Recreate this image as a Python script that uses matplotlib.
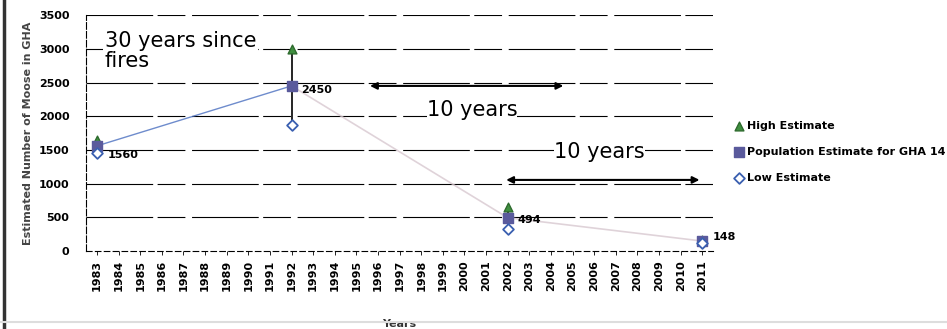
import matplotlib.pyplot as plt
import numpy as np

years = list(range(1983, 2012))
survey_years = [1983, 1992, 2002, 2011]
population = [1560, 2450, 494, 148]
high_estimate = [1650, 3000, 650, 165]
low_estimate = [1450, 1870, 330, 115]
y_ticks = [0, 500, 1000, 1500, 2000, 2500, 3000, 3500]

fig = plt.figure(figsize=(9.47, 3.29), dpi=100)
ax = fig.add_axes([0.091, 0.237, 0.662, 0.717])

# categories are placed at integer positions, like a category axis
pos = {y: i for i, y in enumerate(years)}
xs = [pos[y] for y in survey_years]

for t in y_ticks[1:]:
    ax.axhline(t, color='black', lw=0.8, dashes=(60, 4, 25, 6), zorder=1)

# faint trend through the population estimates
ax.plot(xs[:2], population[:2], color='#4a6fc0', lw=1.0, alpha=0.8, zorder=2)
ax.plot(xs[1:], population[1:], color='#d8c8d0', lw=1.2, alpha=0.8, zorder=2)

# vertical ranges between high and low
for x, lo, hi in zip(xs, low_estimate, high_estimate):
    ax.plot([x, x], [lo, hi], color='black', lw=1.2, zorder=3)

ax.scatter(xs, high_estimate, marker='^', s=40, color='#3f8f3f', edgecolor='#2e6b2e',
           zorder=4, label='High Estimate')
ax.scatter(xs, population, marker='s', s=55, color='#5a5a9c', zorder=5,
           label='Population Estimate for GHA 14')
ax.scatter(xs, low_estimate, marker='D', s=30, facecolor='white', edgecolor='#3a5fb0',
           lw=1.3, zorder=6, label='Low Estimate')

offsets = [(0.5, -130), (0.45, -60), (0.45, -40), (0.5, 60)]
for x, p, (dx, dy) in zip(xs, population, offsets):
    ax.text(x + dx, p + dy, str(p), fontsize=8, fontweight='bold', va='center', zorder=7)

# time span arrows
ax.annotate('', xy=(pos[1995] + 0.5, 2450), xytext=(pos[2005] - 0.3, 2450),
            arrowprops=dict(arrowstyle='<|-|>', color='black', lw=1.5, mutation_scale=10))
ax.annotate('', xy=(pos[2002] - 0.2, 1055), xytext=(pos[2011], 1055),
            arrowprops=dict(arrowstyle='<|-|>', color='black', lw=1.5, mutation_scale=10))

ax.text(pos[1983] + 0.35, 3270, '30 years since\nfires', fontsize=15, va='top', ha='left',
        linespacing=1.05, zorder=7,
        bbox=dict(facecolor='white', edgecolor='none', pad=1))
ax.text(pos[2000] + 0.35, 2090, '10 years', fontsize=15, ha='center', va='center', zorder=7,
        bbox=dict(facecolor='white', edgecolor='none', pad=0))
ax.text(pos[2006] + 0.25, 1470, '10 years', fontsize=15, ha='center', va='center', zorder=7,
        bbox=dict(facecolor='white', edgecolor='none', pad=0))

ax.set_xlim(-0.5, len(years) - 0.5)
ax.set_ylim(0, 3500)
ax.set_xticks(range(len(years)))
ax.set_xticklabels([str(y) for y in years], rotation=90, fontsize=8, fontweight='bold')
ax.set_yticks(y_ticks)
ax.set_yticklabels([str(t) for t in y_ticks], fontsize=8, fontweight='bold')
ax.tick_params(axis='x', length=3, width=0.6)
ax.tick_params(axis='y', length=0, pad=12)

for s in ['top', 'right']:
    ax.spines[s].set_visible(False)
ax.spines['left'].set_linestyle((0, (6, 2)))
ax.spines['left'].set_linewidth(0.8)
ax.spines['bottom'].set_linestyle((0, (5, 3)))
ax.spines['bottom'].set_linewidth(0.8)

ax.set_ylabel('Estimated Number of Moose in GHA', fontsize=8, fontweight='bold', color='#444444')
ax.set_xlabel('Years', fontsize=8, fontweight='bold', color='#333333', labelpad=20)

ax.legend(loc='center left', bbox_to_anchor=(1.02, 0.42), frameon=False,
          handlelength=0.6, handletextpad=0.4, labelspacing=1.4,
          prop={'weight': 'bold', 'size': 8})

# dark edge on the left and light rule along the bottom of the page
fig.add_artist(plt.Line2D([0.004, 0.004], [0.0, 1.0], color='#333333', lw=2.5))
fig.add_artist(plt.Line2D([0.0, 1.0], [0.02, 0.02], color='#dddddd', lw=1.5))

fig.savefig('out.png', dpi=100)
